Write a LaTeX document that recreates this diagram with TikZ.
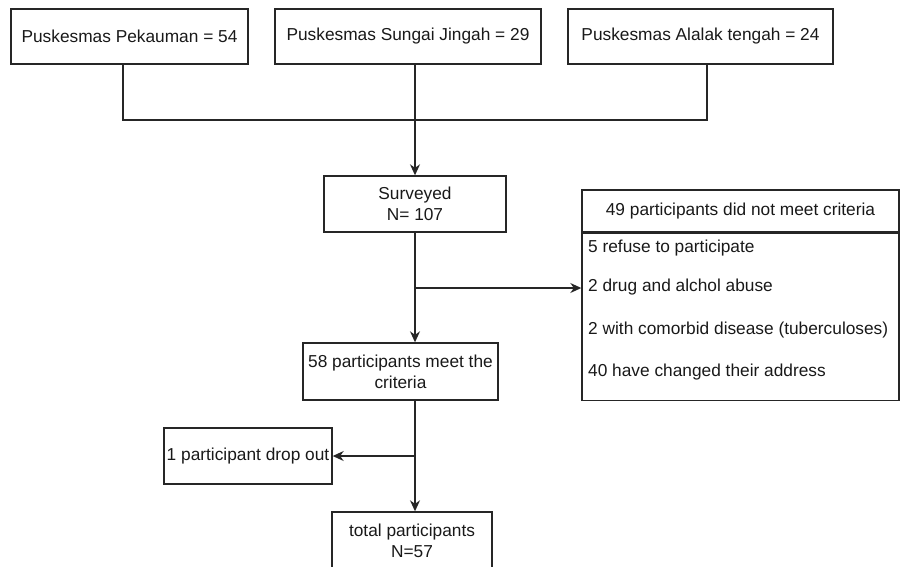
\documentclass[tikz,border=0pt]{standalone}
\usepackage{fontspec}
\setmainfont{Liberation Sans}
\usetikzlibrary{arrows.meta}
\begin{document}
\begin{tikzpicture}[x=1pt,y=-1pt,
  box/.style={draw=black!85, line width=1.4pt, inner sep=0pt, align=center, text=black!90, font=\fontsize{17.3}{21}\selectfont},
  reason/.style={anchor=west, inner sep=0pt, text=black!90, font=\fontsize{17.3}{21}\selectfont},
  link/.style={draw=black!85, line width=1.4pt},
  arr/.style={link, -{Stealth[length=11pt,width=10pt]}}]
\useasboundingbox (0,0) rectangle (903,566);
% health centres
\node[box, minimum width=237, minimum height=55] (pek) at (129.5,36.5) {Puskesmas Pekauman = 54};
\node[box, minimum width=266, minimum height=55] (sj) at (408,36.5) {Puskesmas Sungai Jingah = 29};
\node[box, minimum width=265, minimum height=55] (alt) at (700.5,36.5) {Puskesmas Alalak tengah = 24};
\coordinate (jn) at (415,120);
\draw[link] ([xshift=-6.5pt]pek.south) |- ([xshift=6.5pt]alt.south |- jn) -- ([xshift=6.5pt]alt.south);
\draw[link] ([xshift=7pt]sj.south) -- (jn);
% flow
\node[box, minimum width=182, minimum height=56] (srv) at (415,204) {Surveyed\\N= 107};
\node[box, minimum width=195, minimum height=57] (meet) at (400.5,371.5) {58 participants meet the\\criteria};
\node[box, minimum width=168, minimum height=56] (drop) at (248,456) {1 participant drop out};
\node[box, minimum width=160, minimum height=58] (tot) at (412,541) {total participants\\N=57};
\draw[arr] (jn) -- (srv.north);
\coordinate (br1) at (415,288);
\coordinate (br2) at (415,456);
\draw[arr] (srv.south) -- (srv.south |- meet.north);
\draw[arr] (srv.south |- meet.south) -- (srv.south |- tot.north);
% excluded
\node[box, minimum width=317, minimum height=42] (hdr) at (740.5,211) {49 participants did not meet criteria};
\node[box, minimum width=317, minimum height=167, anchor=north] (lst) at (hdr.south) {};
\node[reason] (r1) at (588,248) {5 refuse to participate};
\node[reason] (r2) at (588,287) {2 drug and alchol abuse};
\node[reason] (r3) at (588,330) {2 with comorbid disease (tuberculoses)};
\node[reason] (r4) at (588,372) {40 have changed their address};
\draw[arr] (br1) -- (lst.west |- br1);
\draw[arr] (br2) -- (drop.east);
\end{tikzpicture}
\end{document}
